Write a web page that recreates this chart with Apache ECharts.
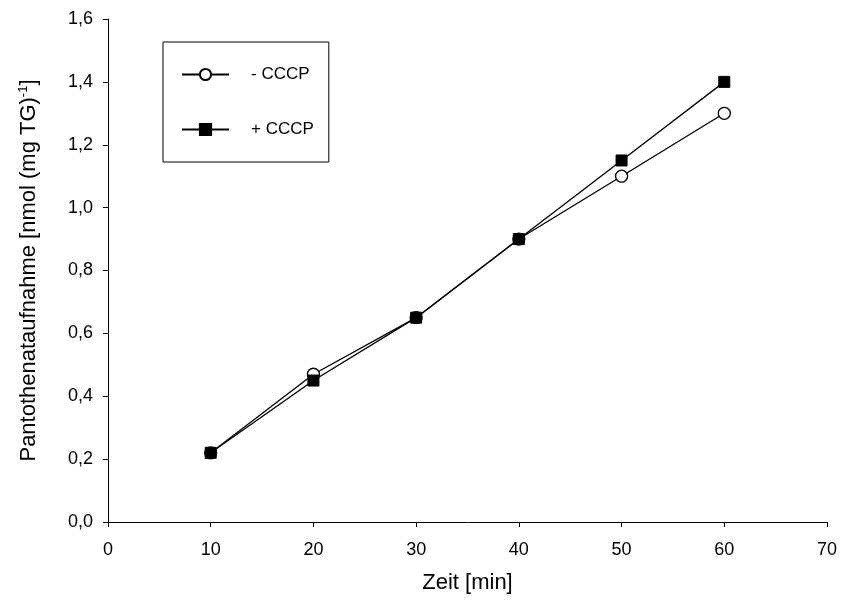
<!DOCTYPE html>
<html><head><meta charset="utf-8">
<script src="https://cdn.jsdelivr.net/npm/echarts@6/dist/echarts.min.js"></script>
<style>html,body{margin:0;padding:0;background:#fff}#c{width:841px;height:611px}</style>
</head><body><div id="c"></div>
<script>
const timeMin = [10, 20, 30, 40, 50, 60];
const minusCCCP = [0.22, 0.47, 0.65, 0.90, 1.10, 1.30];
const plusCCCP = [0.22, 0.45, 0.65, 0.90, 1.15, 1.40];
const seriesNames = ['- CCCP', '+ CCCP'];

const font = 'Liberation Sans, Arial, sans-serif';
const chart = echarts.init(document.getElementById('c'));
const fmt = v => v.toFixed(1).replace('.', ',');
chart.setOption({
  animation: false,
  backgroundColor: '#fff',
  grid: { left: 108, right: 14, top: 19, bottom: 89 },
  legend: {
    orient: 'vertical', left: 163, top: 42,
    padding: [24, 15, 24, 18], itemGap: 38,
    itemWidth: 47, itemHeight: 14,
    borderColor: '#000', borderWidth: 1,
    textStyle: { fontFamily: font, fontSize: 17, color: '#000', padding: [0, 0, 0, 17] },
    data: seriesNames
  },
  xAxis: {
    type: 'value', min: 0, max: 70, interval: 10,
    name: 'Zeit [min]', nameLocation: 'middle', nameGap: 50,
    nameTextStyle: { fontFamily: font, fontSize: 22, color: '#000' },
    axisLine: { onZero: false, lineStyle: { color: '#000', width: 1 } },
    axisTick: { length: 5, lineStyle: { color: '#000' } },
    axisLabel: { fontFamily: font, fontSize: 18, color: '#000', margin: 19 },
    splitLine: { show: false }
  },
  yAxis: {
    type: 'value', min: 0, max: 1.6, interval: 0.2,
    name: '{n|Pantothenataufnahme [nmol (mg TG)}{s|-1}{n|]}',
    nameLocation: 'middle', nameGap: 67,
    nameTextStyle: { fontFamily: font, fontSize: 22, color: '#000',
      rich: { n: { fontFamily: font, fontSize: 22, color: '#000' },
              s: { fontFamily: font, fontSize: 13, color: '#000', verticalAlign: 'top', padding: [0, 0, 11, 0] } } },
    axisLine: { show: true, lineStyle: { color: '#000', width: 1 } },
    axisTick: { show: true, length: 5, lineStyle: { color: '#000' } },
    axisLabel: { fontFamily: font, fontSize: 18, color: '#000', margin: 15, formatter: fmt },
    splitLine: { show: false }
  },
  series: [
    { name: seriesNames[0], type: 'line', data: timeMin.map((t, i) => [t, minusCCCP[i]]),
      symbol: 'circle', symbolSize: 12,
      lineStyle: { color: '#000', width: 1.3 },
      itemStyle: { color: '#fff', borderColor: '#000', borderWidth: 1.3 }, z: 2 },
    { name: seriesNames[1], type: 'line', data: timeMin.map((t, i) => [t, plusCCCP[i]]),
      symbol: 'rect', symbolSize: 11,
      lineStyle: { color: '#000', width: 1.3 },
      itemStyle: { color: '#000', borderColor: '#000', borderWidth: 1 }, z: 3 }
  ]
});
</script></body></html>
